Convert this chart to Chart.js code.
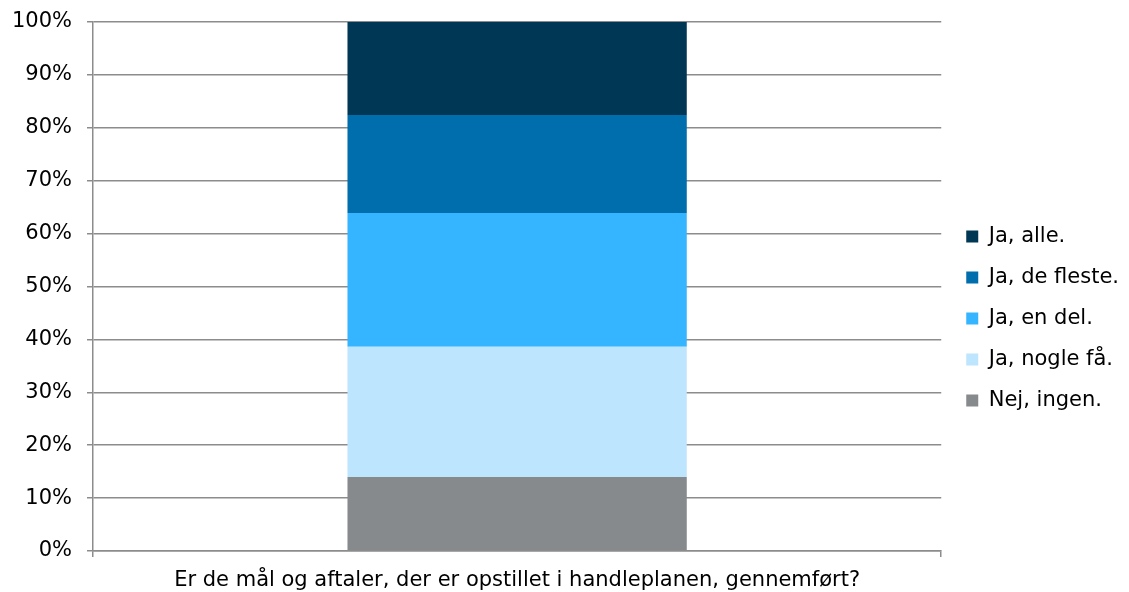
<!DOCTYPE html>
<html>
<head>
<meta charset="utf-8">
<script src="https://cdn.jsdelivr.net/npm/chart.js@4"></script>
<style>
  html, body { margin: 0; padding: 0; background: #fff; }
  #wrap { width: 1129px; height: 592px; }
</style>
</head>
<body>
<div id="wrap"><canvas id="chart"></canvas></div>
<script>
// --- data ---
const categories = ['Er de mål og aftaler, der er opstillet i handleplanen, gennemført?'];
const seriesNames = ['Nej, ingen.', 'Ja, nogle få.', 'Ja, en del.', 'Ja, de fleste.', 'Ja, alle.'];
const nejIngen = [14.0];
const jaNogleFaa = [24.6];
const jaEnDel = [25.3];
const jaDeFleste = [18.5];
const jaAlle = [17.6];
const yTicks = [0, 10, 20, 30, 40, 50, 60, 70, 80, 90, 100];

const seriesValues = [nejIngen, jaNogleFaa, jaEnDel, jaDeFleste, jaAlle];
const seriesColors = ['#878A8C', '#BDE5FD', '#35B5FF', '#006EAD', '#003755'];

const GRID = '#8C8C8C';
const FONT = 'DejaVu Sans, Verdana, sans-serif';
const FONT_SIZE = 21;

const datasets = seriesNames.map((name, i) => ({
    label: name,
    data: seriesValues[i],
    backgroundColor: seriesColors[i],
    borderWidth: 0,
    barPercentage: 0.4,
    categoryPercentage: 1.0
}));

new Chart(document.getElementById('chart'), {
    type: 'bar',
    data: { labels: categories, datasets: datasets },
    options: {
        responsive: true,
        maintainAspectRatio: false,
        animation: false,
        layout: { padding: { left: 0, top: 1, right: 0, bottom: 0 } },
        plugins: {
            tooltip: { enabled: false },
            legend: {
                position: 'right',
                reverse: true,
                // empty title only pushes the list down to where Excel put it
                title: { display: true, text: '', font: { size: 10 }, padding: { top: 16, bottom: 16 } },
                labels: {
                    boxWidth: 12,
                    boxHeight: 12,
                    padding: 20,
                    color: '#000',
                    font: { family: FONT, size: FONT_SIZE }
                }
            }
        },
        scales: {
            x: {
                stacked: true,
                grid: { display: true, drawOnChartArea: false, offset: true, color: GRID, tickLength: 6, lineWidth: 1.5 },
                border: { display: true, color: GRID, width: 1.5 },
                ticks: { color: '#000', padding: 11, font: { family: FONT, size: FONT_SIZE }, maxRotation: 0 },
                afterFit: (axis) => { axis.height = 41; }
            },
            y: {
                stacked: true,
                min: 0,
                max: 100,
                afterBuildTicks: (axis) => { axis.ticks = yTicks.map(v => ({ value: v })); },
                grid: { color: GRID, tickLength: 6, lineWidth: 1.5 },
                border: { display: true, color: GRID, width: 1.5 },
                ticks: {
                    color: '#000',
                    padding: 15,
                    font: { family: FONT, size: FONT_SIZE },
                    callback: (v) => v + '%'
                },
                afterFit: (axis) => { axis.width = 93; axis.paddingTop = 22; }
            },
            // blank strip between plot and legend
            gap: {
                type: 'linear',
                position: 'right',
                display: true,
                grid: { display: false },
                border: { display: false },
                ticks: { display: false },
                afterFit: (axis) => { axis.width = 5; }
            }
        }
    }
});
</script>
</body>
</html>
